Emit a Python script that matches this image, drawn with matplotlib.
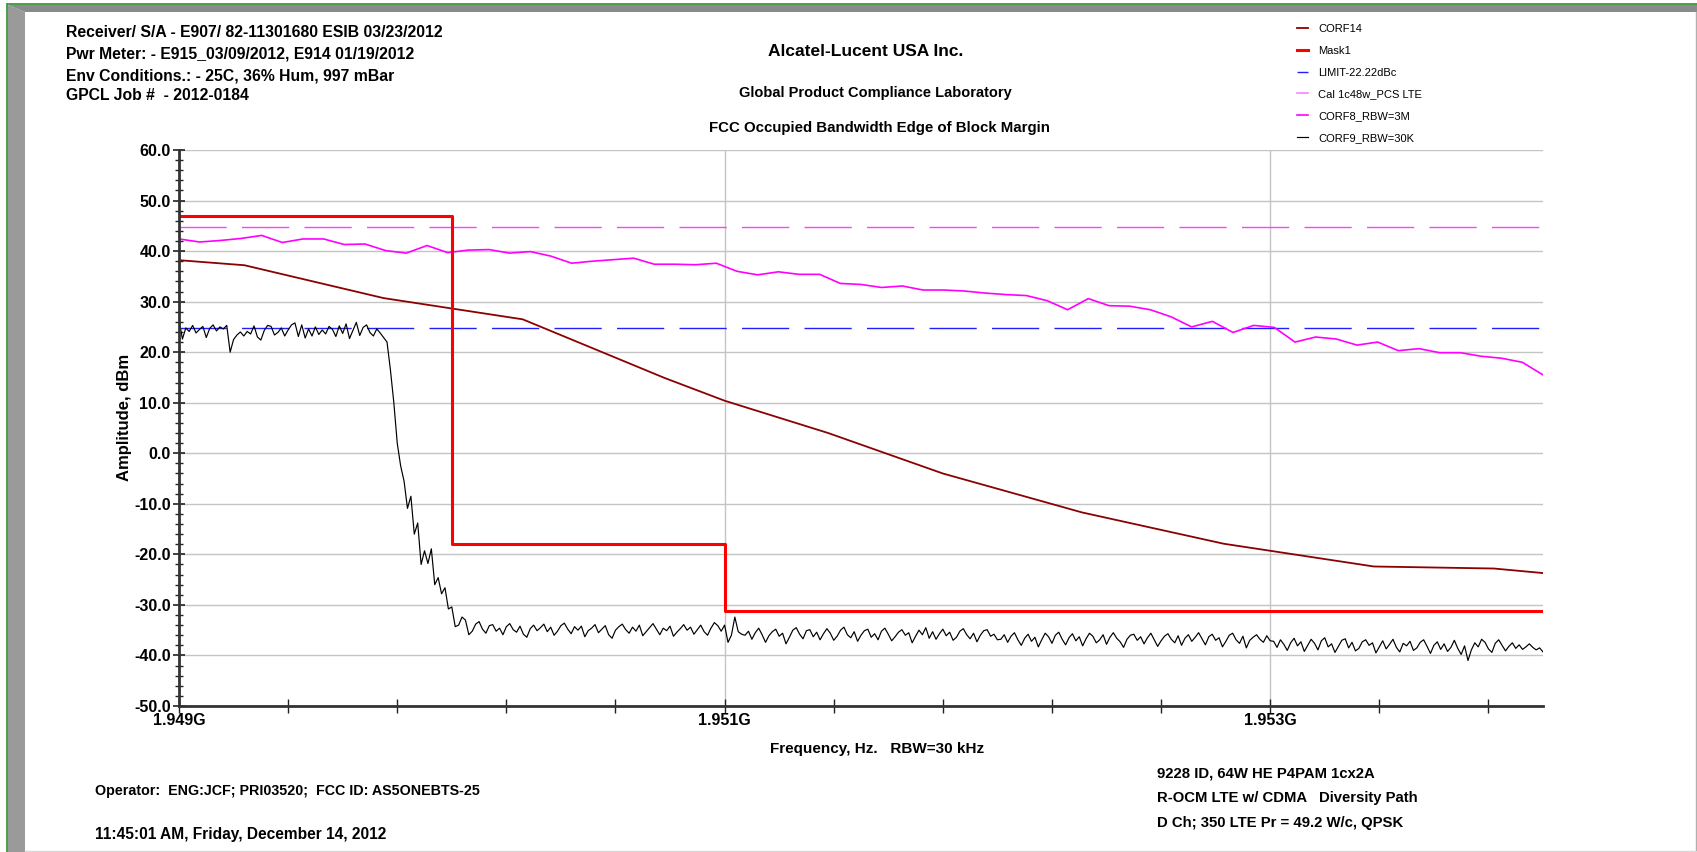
import matplotlib
matplotlib.use("Agg")
import matplotlib.pyplot as plt
import numpy as np
from matplotlib import font_manager
from matplotlib.lines import Line2D
from matplotlib.patches import Polygon
from matplotlib.ticker import FixedLocator, MultipleLocator, FuncFormatter, FormatStrFormatter

# ---- data ----
f_start, f_stop = 1.949e9, 1.954e9

mask_freq = [1.949e9, 1.950e9, 1.951e9, 1.954e9]
mask_dbm = [46.9, -18.0, -31.2, -31.2]

corf14_freq = [1.949e9, 1.94924e9, 1.94975e9, 1.95026e9, 1.95078e9, 1.951e9, 1.95138e9,
               1.9518e9, 1.95231e9, 1.95283e9, 1.95338e9, 1.95382e9, 1.954e9]
corf14_dbm = [38.2, 37.2, 30.7, 26.5, 14.9, 10.4, 4.0, -4.0, -11.7, -17.9, -22.4, -22.8, -23.7]

cal_dbm = 44.7
limit_dbm = 24.7

corf8_dbm = [42.4, 41.8, 42.1, 42.5, 43.1, 41.7, 42.4, 42.4, 41.3, 41.4, 40.1, 39.6, 41.1, 39.7,
             40.2, 40.3, 39.6,
             39.9, 39.0, 37.6, 38.0, 38.3, 38.6, 37.4, 37.4, 37.3, 37.6, 36.0, 35.3, 35.9, 35.4,
             35.4, 33.6, 33.4, 32.8, 33.1, 32.3, 32.3, 32.1, 31.7, 31.4, 31.2, 30.2, 28.4, 30.6,
             29.2, 29.1, 28.4, 27.0,
             25.0, 26.1, 23.9, 25.3, 24.9, 22.0, 23.0, 22.6, 21.4, 22.0, 20.3, 20.7, 19.9, 19.9,
             19.2, 18.8, 18.0, 15.5]

corf9_inband = [26.5, 22.6, 24.8, 24.1, 25.3, 23.8, 24.5, 25.1, 22.9, 24.7, 25.4, 24.2, 25.0, 24.6,
                25.3, 20.0, 22.5, 23.4, 24.0, 23.2, 24.1, 23.6, 25.2, 23.0, 22.4, 24.3, 25.3, 25.1,
                23.4, 23.9, 24.8, 23.2, 24.4, 25.4, 25.8, 23.1, 25.4, 22.8, 24.6, 23.2, 25.0, 23.5,
                24.4, 23.6, 25.1, 24.5, 23.1, 25.2, 23.7, 25.6, 22.7, 24.3, 25.9, 23.3, 24.9, 25.4,
                23.9, 23.2, 24.6, 23.8, 22.9]
corf9_rolloff = [22.0, 16.5, 10.0, 2.0, -2.5, -5.5, -10.9, -8.5, -16.0, -13.8, -22.0, -19.3, -21.8,
                 -18.9, -26.0, -24.6, -27.8, -26.6, -30.8, -30.4, -34.3, -34.0, -32.4, -33.0, -35.9,
                 -35.2, -33.8, -33.3]
corf9_floor_a = [-34.8, -35.6, -34.1, -33.9, -35.2, -34.6, -35.9, -34.3, -33.7, -34.9, -35.4, -34.2,
                 -35.8, -36.4, -34.7, -34.0, -35.1, -34.5, -33.8, -35.3, -34.4, -36.0, -35.2, -34.1,
                 -33.6, -34.8, -35.7, -34.3, -35.0, -34.2, -36.3, -35.1, -34.6, -33.9, -35.5, -34.8,
                 -34.1, -35.9, -36.6, -35.0, -34.3, -33.8, -34.9, -35.6, -34.4, -35.2, -34.0, -36.1,
                 -35.3, -34.5, -33.7, -34.8, -35.9, -34.6, -35.1, -34.2, -36.2, -35.4, -34.7, -33.9,
                 -35.0, -34.4, -35.8, -34.9, -34.0, -35.3, -36.0, -34.6, -33.5, -34.1, -35.2]
corf9_edge = [-34.0, -37.4, -36.0, -32.4, -35.3, -35.8]
corf9_floor_b = [-36.0, -35.2, -36.8, -35.5, -34.6, -35.9, -37.4, -36.1, -35.3, -34.8, -36.2, -35.6,
                 -37.7, -36.4, -35.0, -34.5, -35.8, -36.7, -35.1, -34.9, -36.3, -35.4, -36.9, -35.7,
                 -34.7, -35.6, -37.0, -36.2, -35.0, -34.4, -35.9, -36.5, -35.3, -37.2, -36.0, -35.1,
                 -34.8, -36.4, -35.7, -36.9, -35.2, -34.6, -35.8, -37.1, -36.3, -35.4, -34.9, -36.0,
                 -35.5, -37.5, -36.2, -35.0, -35.9, -34.5, -36.6, -35.3, -36.8, -35.7, -34.8, -36.1,
                 -35.4, -37.0, -36.4, -35.2, -34.7, -35.9, -36.7, -35.6, -37.3, -36.0, -35.1, -34.9,
                 -36.2, -35.8, -36.9]
corf9_floor_c = [-36.8, -35.9, -37.4, -36.2, -35.5, -36.9, -38.0, -36.6, -35.8, -37.2, -36.4, -38.3,
                 -36.9, -35.6, -36.3, -37.6, -36.0, -35.4, -36.8, -37.9, -36.5, -35.7, -37.1, -36.3,
                 -38.1, -36.7, -35.6, -36.2, -37.5, -36.9, -35.9, -37.8, -36.4, -35.5, -36.6, -37.3,
                 -38.4, -36.8, -36.0, -35.8, -37.0, -36.3, -37.7, -36.5, -35.6, -36.9, -38.2, -37.1,
                 -36.2, -35.7, -36.8, -37.5, -36.1, -38.0, -36.6, -35.9, -37.2, -36.4, -35.5, -36.7,
                 -37.9, -36.3, -35.8, -37.0, -36.5, -38.3, -37.2, -36.0, -35.6, -36.9, -37.6, -36.2,
                 -38.5, -37.0, -36.4, -35.9, -36.8, -37.4, -36.1, -37.1]
corf9_floor_d = [-37.2, -38.4, -36.9, -37.8, -39.0, -37.5, -36.6, -38.1, -37.3, -39.2, -38.0, -36.8,
                 -37.6, -38.9, -37.1, -36.5, -38.3, -37.7, -39.4, -38.2, -37.0, -36.7, -38.5, -37.4,
                 -39.1, -38.6, -37.3, -36.9, -38.0, -37.5, -39.5, -38.3, -37.1, -38.7, -37.8, -36.8,
                 -38.4, -39.3, -37.6, -38.1, -37.2, -39.0, -38.5, -37.4, -36.9, -38.2, -39.6, -38.0,
                 -37.3, -38.8, -37.7, -39.2, -38.4, -37.0, -38.6, -39.8, -38.1, -41.0, -38.9, -37.5,
                 -38.3, -36.8, -37.4, -38.7, -39.4, -37.6, -36.9, -38.0, -39.1, -38.2, -37.5, -38.6,
                 -37.9, -38.8, -38.3, -37.7, -38.4, -38.9, -38.5, -39.3]
corf9_dbm = (corf9_inband + corf9_rolloff + corf9_floor_a + corf9_edge
             + corf9_floor_b + corf9_floor_c + corf9_floor_d)

x_label_ticks = [1.949e9, 1.951e9, 1.953e9]

legend_labels = ["CORF14", "Mask1", "LIMIT-22.22dBc", "Cal 1c48w_PCS LTE",
                 "CORF8_RBW=3M", "CORF9_RBW=30K"]

# ---- fonts ----
names = {f.name for f in font_manager.fontManager.ttflist}
MAIN = "Liberation Sans" if "Liberation Sans" in names else "DejaVu Sans"
NARROW = "Liberation Sans Narrow" if "Liberation Sans Narrow" in names else MAIN
plt.rcParams["font.family"] = [MAIN, "DejaVu Sans"]
plt.rcParams["font.weight"] = "bold"

W, H = 1697.0, 852.0


def fx(px):
    return px / W


def fy(py):
    return 1 - py / H


fig = plt.figure(figsize=(W / 100, H / 100), dpi=100)
fig.patch.set_facecolor("white")

# window frame (grey bevel + green border)
fig.patches.append(Polygon([(fx(8), fy(5)), (fx(1697), fy(5)), (fx(1697), fy(12)), (fx(25), fy(12))],
                           closed=True, transform=fig.transFigure, facecolor="#8a8a8a", edgecolor="none"))
fig.patches.append(Polygon([(fx(8), fy(5)), (fx(25), fy(12)), (fx(25), fy(852)), (fx(8), fy(852))],
                           closed=True, transform=fig.transFigure, facecolor="#9a9a9a", edgecolor="none"))
fig.lines.append(Line2D([fx(8), fx(1697)], [fy(4), fy(4)], transform=fig.transFigure,
                        color="#2e8b2e", lw=1.2))
fig.lines.append(Line2D([fx(7), fx(7)], [fy(4), fy(852)], transform=fig.transFigure,
                        color="#2e8b2e", lw=1.2))
fig.lines.append(Line2D([fx(1695.5), fx(1695.5)], [fy(12), fy(852)], transform=fig.transFigure,
                        color="#b0b0b0", lw=1.0))
fig.lines.append(Line2D([fx(25), fx(1697)], [fy(850.5), fy(850.5)], transform=fig.transFigure,
                        color="#d8d8d8", lw=1.0))

ax = fig.add_axes([fx(179), fy(706), fx(1543) - fx(179), fy(150) - fy(706)])
ax.set_xlim(f_start, f_stop)
ax.set_ylim(-50, 60)

# grid
ax.yaxis.grid(True, color="#c4c4c4", lw=1.0)
ax.set_axisbelow(True)
for f in x_label_ticks[1:]:
    ax.axvline(f, color="#c4c4c4", lw=1.0, zorder=0.5)

# traces
corf8_freq = np.linspace(f_start, f_stop, len(corf8_dbm))
corf9_freq = np.linspace(f_start, f_stop, len(corf9_dbm))

l_corf9, = ax.plot(corf9_freq, corf9_dbm, color="black", lw=0.85, zorder=3)
l_corf8, = ax.plot(corf8_freq, corf8_dbm, color="#ff00ff", lw=1.2, zorder=3)
l_cal = ax.axhline(cal_dbm, color="#ff40ff", lw=1.0, dashes=(34, 11), zorder=2.5)
l_lim = ax.axhline(limit_dbm, color="#2020ff", lw=1.0, dashes=(34, 11), zorder=2.5)
l_corf14, = ax.plot(corf14_freq, corf14_dbm, color="#8b0000", lw=1.3, zorder=4)
l_mask, = ax.step(mask_freq, mask_dbm, where="post", color="#ff0000", lw=2.2, zorder=5)

# axes styling
for s in ("top", "right"):
    ax.spines[s].set_visible(False)
for s in ("left", "bottom"):
    ax.spines[s].set_linewidth(2.0)
    ax.spines[s].set_color("#333333")
    ax.spines[s].set_zorder(6)

ax.xaxis.set_major_locator(FixedLocator(np.arange(f_start, f_stop - 1e3, 0.4e6)))


def x_fmt(v, pos):
    for f in x_label_ticks:
        if abs(v - f) < 1e3:
            return f"{f / 1e9:.3f}G"
    return ""


ax.xaxis.set_major_formatter(FuncFormatter(x_fmt))
ax.yaxis.set_major_locator(MultipleLocator(10))
ax.yaxis.set_minor_locator(MultipleLocator(2))
ax.yaxis.set_major_formatter(FormatStrFormatter("%.1f"))

ax.tick_params(axis="y", which="major", direction="inout", length=8, width=1.2,
               color="#222222", labelsize=11.5, pad=2)
ax.tick_params(axis="y", which="minor", direction="inout", length=6, width=1.0, color="#222222")
ax.tick_params(axis="x", which="major", direction="inout", length=10, width=1.0,
               color="#222222", labelsize=11.5, pad=0)

ax.set_xlabel("Frequency, Hz.   RBW=30 kHz", fontsize=11, fontweight="bold")
ax.xaxis.label.set_va("center")
ax.xaxis.set_label_coords((877 - 179) / 1364, (706 - 749) / 556)
ax.set_ylabel("Amplitude, dBm", fontsize=12, fontweight="bold")
ax.yaxis.label.set_va("center")
ax.yaxis.set_label_coords((124 - 179) / 1364, (706 - 417) / 556)

# header / footer texts
hdr = ["Receiver/ S/A - E907/ 82-11301680 ESIB 03/23/2012",
       "Pwr Meter: - E915_03/09/2012, E914 01/19/2012",
       "Env Conditions.: - 25C, 36% Hum, 997 mBar",
       "GPCL Job #  - 2012-0184"]
for t, yy in zip(hdr, [32.5, 54, 76, 96]):
    fig.text(fx(66), fy(yy), t, fontsize=11.3, fontweight="bold", va="center", ha="left")

fig.text(fx(866), fy(51), "Alcatel-Lucent USA Inc.", fontsize=12.5, fontweight="bold",
         ha="center", va="center")
fig.text(fx(875), fy(93), "Global Product Compliance Laboratory", fontsize=10.5,
         fontweight="bold", ha="center", va="center")
fig.text(fx(879), fy(128), "FCC Occupied Bandwidth Edge of Block Margin", fontsize=10.8,
         fontweight="bold", ha="center", va="center")

fig.text(fx(95), fy(791), "Operator:  ENG:JCF; PRI03520;  FCC ID: AS5ONEBTS-25",
         fontsize=10.3, fontweight="bold", va="center")
fig.text(fx(95), fy(834), "11:45:01 AM, Friday, December 14, 2012",
         fontsize=11.2, fontweight="bold", va="center")

ftr = ["9228 ID, 64W HE P4PAM 1cx2A",
       "R-OCM LTE w/ CDMA   Diversity Path",
       "D Ch; 350 LTE Pr = 49.2 W/c, QPSK"]
for t, yy in zip(ftr, [774, 798, 823]):
    fig.text(fx(1157), fy(yy), t, fontsize=10.7, fontweight="bold", va="center")

# legend
handles = [l_corf14, l_mask, l_lim, Line2D([], [], color="#ff80ff", lw=1.2), l_corf8, l_corf9]
leg = fig.legend(handles, legend_labels, loc="upper left",
                 bbox_to_anchor=(fx(1297), fy(24)), frameon=False,
                 prop={"family": NARROW, "size": 8, "weight": "normal"},
                 handlelength=1.0, handletextpad=0.9, labelspacing=1.06,
                 borderpad=0, borderaxespad=0)

fig.savefig("out.png", dpi=100)
